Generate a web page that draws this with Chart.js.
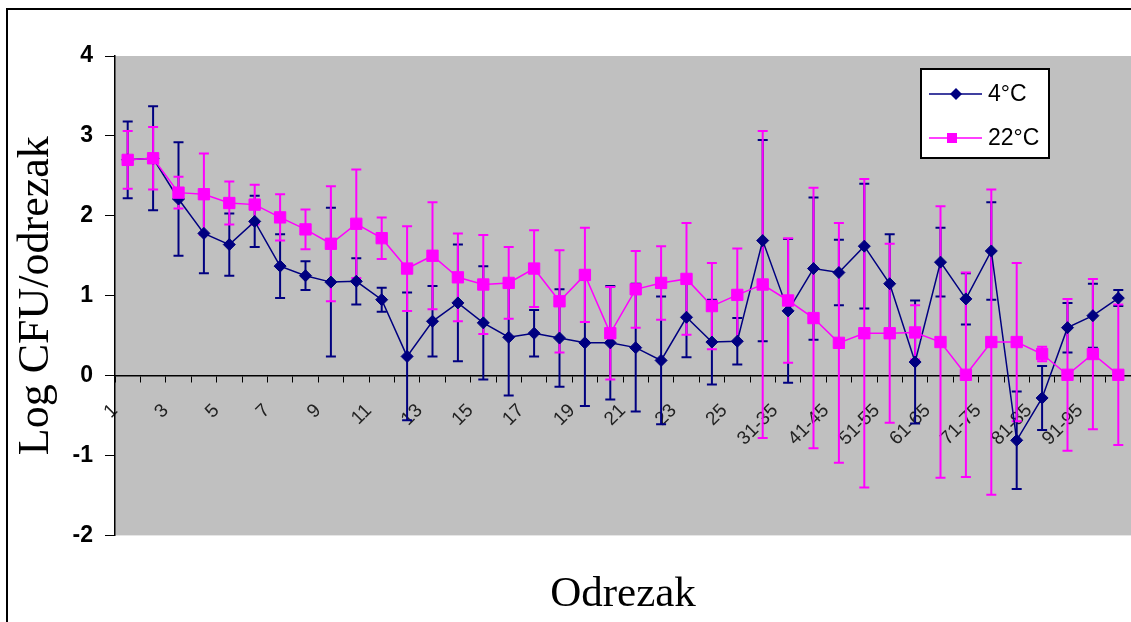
<!DOCTYPE html>
<html>
<head>
<meta charset="utf-8">
<script src="https://cdn.jsdelivr.net/npm/chart.js@4.4.0/dist/chart.umd.min.js"></script>
<style>
  html, body { margin: 0; padding: 0; background: #fff; overflow: hidden; }
  #frame { position: absolute; left: 6px; top: 8px; width: 1140px; height: 640px; border: 2px solid #000; }
  #wrap { position: absolute; left: 0; top: 0; width: 1140px; height: 622px; }
</style>
</head>
<body>
<div id="frame"></div>
<div id="wrap"><canvas id="chart"></canvas></div>
<script>
// Categories (segments)
const segments = ['1', '2', '3', '4', '5', '6', '7', '8', '9', '10',
    '11', '12', '13', '14', '15', '16', '17', '18', '19', '20',
    '21', '22', '23', '24', '25', '26-30', '31-35', '36-40', '41-45', '46-50',
    '51-55', '56-60', '61-65', '66-70', '71-75', '76-80', '81-85', '86-90', '91-95', '96-100'];

// 4°C series and its error (±)
const cold = [2.70, 2.72, 2.21, 1.78, 1.64, 1.93, 1.37, 1.25, 1.17, 1.18,
    0.95, 0.24, 0.68, 0.91, 0.66, 0.48, 0.53, 0.47, 0.41, 0.41,
    0.35, 0.19, 0.73, 0.42, 0.43, 1.69, 0.81, 1.34, 1.29, 1.62,
    1.15, 0.17, 1.42, 0.96, 1.56, -0.81, -0.28, 0.60, 0.75, 0.97];
const coldErr = [0.48, 0.65, 0.71, 0.50, 0.39, 0.32, 0.40, 0.18, 0.93, 0.29,
    0.15, 0.80, 0.44, 0.73, 0.71, 0.73, 0.29, 0.61, 0.79, 0.71,
    0.80, 0.80, 0.50, 0.53, 0.29, 1.26, 0.90, 0.89, 0.41, 0.78,
    0.62, 0.77, 0.43, 0.32, 0.61, 0.61, 0.40, 0.31, 0.40, 0.10];

// 22°C series and its error (±)
const warm = [2.70, 2.72, 2.29, 2.27, 2.16, 2.14, 1.98, 1.83, 1.65, 1.90,
    1.72, 1.34, 1.50, 1.23, 1.14, 1.16, 1.34, 0.93, 1.26, 0.53,
    1.08, 1.16, 1.21, 0.87, 1.01, 1.14, 0.94, 0.72, 0.41, 0.53,
    0.53, 0.54, 0.42, 0.01, 0.42, 0.42, 0.27, 0.01, 0.27, 0.01];
const warmErr = [0.36, 0.39, 0.20, 0.51, 0.27, 0.25, 0.29, 0.25, 0.72, 0.68,
    0.26, 0.53, 0.67, 0.55, 0.62, 0.45, 0.48, 0.64, 0.59, 0.58,
    0.48, 0.46, 0.70, 0.54, 0.58, 1.92, 0.78, 1.63, 1.50, 1.93,
    1.12, 0.34, 1.70, 1.28, 1.91, 0.99, 0.09, 0.95, 0.94, 0.88];

const errors = [coldErr, warmErr];

// gray plot area like the Excel original
const plotBackground = {
    id: 'plotBackground',
    beforeDraw(chart) {
        const { ctx, chartArea: a } = chart;
        ctx.save();
        ctx.fillStyle = '#c0c0c0';
        ctx.fillRect(a.left, a.top, a.right - a.left, a.bottom - a.top);
        ctx.restore();
    }
};

// error bars with caps
const errorBars = {
    id: 'errorBars',
    beforeDatasetsDraw(chart) {
        const { ctx, scales: { x, y } } = chart;
        chart.data.datasets.forEach((ds, d) => {
            ctx.save();
            ctx.strokeStyle = ds.borderColor;
            ctx.lineWidth = 2;
            ds.data.forEach((v, i) => {
                const px = x.getPixelForValue(i);
                const top = y.getPixelForValue(v + errors[d][i]);
                const bot = y.getPixelForValue(v - errors[d][i]);
                ctx.beginPath();
                ctx.moveTo(px, top);
                ctx.lineTo(px, bot);
                ctx.moveTo(px - 5, top);
                ctx.lineTo(px + 5, top);
                ctx.moveTo(px - 5, bot);
                ctx.lineTo(px + 5, bot);
                ctx.stroke();
            });
            ctx.restore();
        });
    }
};

// boxed legend in the upper right of the plot
const boxLegend = {
    id: 'boxLegend',
    afterDraw(chart) {
        const ctx = chart.ctx;
        const left = 921, top = 69, w = 128, h = 89;
        ctx.save();
        ctx.fillStyle = '#fff';
        ctx.fillRect(left, top, w, h);
        ctx.strokeStyle = '#000';
        ctx.lineWidth = 2;
        ctx.strokeRect(left, top, w, h);
        ctx.font = '23px Arial, "Liberation Sans", sans-serif';
        ctx.textBaseline = 'middle';
        chart.data.datasets.forEach((ds, i) => {
            const rowY = top + 25 + i * 44;
            ctx.strokeStyle = ds.borderColor;
            ctx.lineWidth = 1.5;
            ctx.beginPath();
            ctx.moveTo(left + 8, rowY);
            ctx.lineTo(left + 61, rowY);
            ctx.stroke();
            ctx.fillStyle = ds.backgroundColor;
            ctx.beginPath();
            if (ds.pointStyle === 'rectRot') {
                ctx.moveTo(left + 35 - 6, rowY);
                ctx.lineTo(left + 35, rowY - 6);
                ctx.lineTo(left + 35 + 6, rowY);
                ctx.lineTo(left + 35, rowY + 6);
                ctx.closePath();
            } else {
                ctx.rect(left + 31 - 5, rowY - 5, 10, 10);
            }
            ctx.fill();
            ctx.fillStyle = '#000';
            ctx.fillText(ds.label, left + 67, rowY + 1);
        });
        ctx.restore();
    }
};

const ctx = document.getElementById('chart').getContext('2d');
const chart = new Chart(ctx, {
    type: 'line',
    data: {
        labels: segments,
        datasets: [{
            label: '4°C',
            data: cold,
            borderColor: '#000080',
            backgroundColor: '#000080',
            borderWidth: 1.5,
            pointStyle: 'rectRot',
            pointRadius: 6,
            pointBorderWidth: 1,
            order: 2
        }, {
            label: '22°C',
            data: warm,
            borderColor: '#ff00ff',
            backgroundColor: '#ff00ff',
            borderWidth: 1.5,
            pointStyle: 'rect',
            pointRadius: 8,
            pointBorderWidth: 1,
            order: 1
        }]
    },
    options: {
        responsive: true,
        maintainAspectRatio: false,
        animation: false,
        layout: { padding: { top: 56, left: 0, right: 0, bottom: 0 } },
        plugins: {
            legend: { display: false },
            tooltip: { enabled: false },
            title: {
                display: true,
                text: 'Odrezak',
                position: 'bottom',
                fullSize: false,
                color: '#000',
                font: { family: '"Liberation Serif", "Times New Roman", serif', size: 43, weight: 'normal' },
                padding: { top: 34, bottom: 1 }
            }
        },
        scales: {
            x: {
                type: 'category',
                position: { y: 0 },
                offset: true,
                afterFit: (scale) => { scale.paddingLeft = 0; scale.paddingRight = 0; },
                grid: { display: true, drawOnChartArea: false, offset: true, tickLength: 6, color: '#000' },
                border: { display: true, color: '#000', width: 1.5 },
                ticks: {
                    autoSkip: false,
                    minRotation: 45,
                    maxRotation: 45,
                    padding: 18,
                    labelOffset: -13,
                    color: '#222',
                    font: { family: 'Arial, "Liberation Sans", sans-serif', size: 19 },
                    callback: function (val, i) {
                        return i % 2 === 0 ? this.getLabelForValue(val) : '';
                    }
                }
            },
            y: {
                min: -2,
                max: 4,
                afterFit: (scale) => { scale.width = 115; },
                grid: { display: true, drawOnChartArea: false, tickLength: 10, color: '#000' },
                border: { display: true, color: '#000', width: 1.5 },
                ticks: {
                    stepSize: 1,
                    padding: 12,
                    color: '#000',
                    font: { family: 'Arial, "Liberation Sans", sans-serif', size: 23, weight: 'bold' }
                },
                title: {
                    display: true,
                    text: 'Log CFU/odrezak',
                    color: '#000',
                    font: { family: '"Liberation Serif", "Times New Roman", serif', size: 44, weight: 'normal' },
                    padding: { top: 10, bottom: 0 }
                }
            }
        }
    },
    plugins: [plotBackground, errorBars, boxLegend]
});
</script>
</body>
</html>
